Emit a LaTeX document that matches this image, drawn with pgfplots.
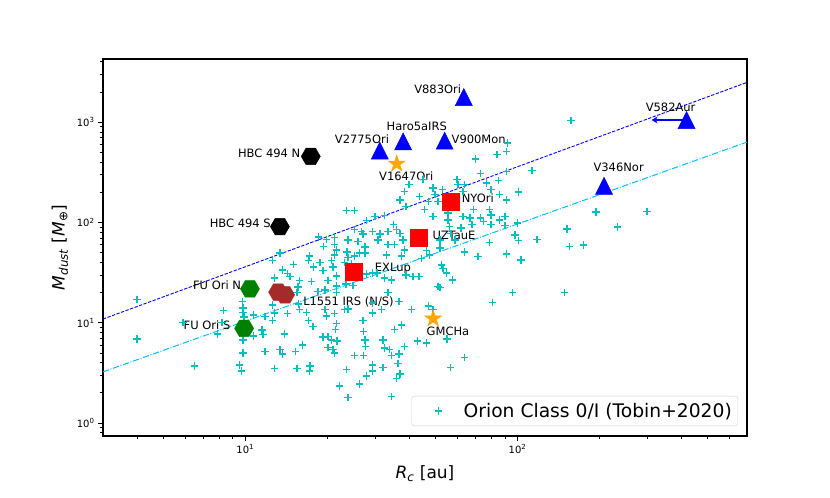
\documentclass[border=0pt]{standalone}
\usepackage{pgfplots}
\pgfplotsset{compat=1.18}
\usepackage{fontspec}
\setmainfont{DejaVu Sans}
\usetikzlibrary{arrows.meta}

\definecolor{mplcyan}{rgb}{0,0.75,0.75}
\definecolor{skyline}{RGB}{0,191,255}
\definecolor{mplgreen}{RGB}{0,128,0}
\definecolor{mplbrown}{RGB}{165,42,42}
\definecolor{mplorange}{RGB}{255,165,0}

% matplotlib-like filled markers
\pgfdeclareplotmark{tri*}{%
  \pgfpathmoveto{\pgfqpoint{0pt}{\pgfplotmarksize}}%
  \pgfpathlineto{\pgfqpoint{-\pgfplotmarksize}{-\pgfplotmarksize}}%
  \pgfpathlineto{\pgfqpoint{\pgfplotmarksize}{-\pgfplotmarksize}}%
  \pgfpathclose
  \pgfusepathqfillstroke}
\pgfdeclareplotmark{hex*}{%
  \pgfpathmoveto{\pgfpointpolar{0}{\pgfplotmarksize}}%
  \pgfpathlineto{\pgfpointpolar{60}{\pgfplotmarksize}}%
  \pgfpathlineto{\pgfpointpolar{120}{\pgfplotmarksize}}%
  \pgfpathlineto{\pgfpointpolar{180}{\pgfplotmarksize}}%
  \pgfpathlineto{\pgfpointpolar{240}{\pgfplotmarksize}}%
  \pgfpathlineto{\pgfpointpolar{300}{\pgfplotmarksize}}%
  \pgfpathclose
  \pgfusepathqfillstroke}
\pgfdeclareplotmark{star5*}{%
  \pgfpathmoveto{\pgfpointpolar{90}{\pgfplotmarksize}}%
  \pgfpathlineto{\pgfpointpolar{126}{0.382\pgfplotmarksize}}%
  \pgfpathlineto{\pgfpointpolar{162}{\pgfplotmarksize}}%
  \pgfpathlineto{\pgfpointpolar{198}{0.382\pgfplotmarksize}}%
  \pgfpathlineto{\pgfpointpolar{234}{\pgfplotmarksize}}%
  \pgfpathlineto{\pgfpointpolar{270}{0.382\pgfplotmarksize}}%
  \pgfpathlineto{\pgfpointpolar{306}{\pgfplotmarksize}}%
  \pgfpathlineto{\pgfpointpolar{342}{0.382\pgfplotmarksize}}%
  \pgfpathlineto{\pgfpointpolar{18}{\pgfplotmarksize}}%
  \pgfpathlineto{\pgfpointpolar{54}{0.382\pgfplotmarksize}}%
  \pgfpathclose
  \pgfusepathqfillstroke}

\begin{document}
\begin{tikzpicture}
\useasboundingbox (-103bp,-62bp) rectangle (727bp,436bp);
\begin{axis}[
    at={(0,0)}, anchor=south west,
    scale only axis, width=644bp, height=377bp,
    xmode=log, ymode=log,
    xmin=3, xmax=697, ymin=0.7435, ymax=4270,
    xtick={10,100},
    xticklabels={10\textsuperscript{1},10\textsuperscript{2}},
    ytick={1,10,100,1000},
    yticklabels={10\textsuperscript{0},10\textsuperscript{1},10\textsuperscript{2},10\textsuperscript{3}},
    minor xtick={4,5,6,7,8,9,20,30,40,50,60,70,80,90,200,300,400,500,600},
    minor ytick={0.8,0.9,2,3,4,5,6,7,8,9,20,30,40,50,60,70,80,90,200,300,400,500,600,700,800,900,2000,3000,4000},
    tick align=outside, xtick pos=bottom, ytick pos=left,
    major tick length=5bp, minor tick length=2.8bp,
    every major tick/.append style={black, line width=1.1bp},
    every minor tick/.append style={black, line width=0.8bp},
    axis line style={line width=1.1bp},
    tick label style={font=\fontsize{10bp}{12bp}\selectfont},
    xlabel={\textit{R}\textsubscript{\textit{c}} [au]},
    ylabel={\textit{M}\textsubscript{\textit{dust}} [\textit{M}\textsubscript{⊕}]},
    label style={font=\fontsize{17bp}{20bp}\selectfont},
    xlabel style={at={(axis description cs:0.5,-0.1)}, anchor=center},
    ylabel style={at={(axis description cs:-0.067,0.5)}, anchor=center},
    legend style={at={(axis description cs:0.986,0.0265)}, anchor=south east,
        draw=black!18, rounded corners=2.5bp, fill=white,
        font=\fontsize{18.7bp}{22bp}\selectfont, inner xsep=4bp, inner ysep=5bp},
    legend cell align=left,
    legend image code/.code={\path[draw=none,fill=none] (0bp,0bp) -- (46bp,0bp);
        \draw[#1] plot[only marks] coordinates {(23bp,0bp)};},
]

% Orion Class 0/I sample (Tobin+2020)
\addplot[only marks, mark=+, mark size=3.7bp, mplcyan, line width=1.4bp] coordinates {
(4.0,17) (4.0,6.9) (5.9,10.1) (6.5,3.7) (8.3,13.3) (7.9,7.7) (8.2,10.0)
(23.5,132) (25.2,132) (27.9,105) (25.2,85) (27.1,77) (18.6,72) (19.9,68) (21.3,71)
(23.8,67) (25.9,65) (27.5,57) (19.4,58) (21.3,60) (21.6,53) (13.4,49.5) (12.6,42)
(17.2,46.5) (17.1,42) (18.8,40) (21.3,47.6) (20.7,42) (23.6,51) (23.8,45) (25.2,46.5)
(26.3,49.5) (15.0,38) (13.7,33.7) (14.3,31) (14.6,29) (12.8,28) (17.8,36) (19.3,33)
(21.0,36) (21.6,29.4) (23.2,40) (24.5,38.7) (15.8,26.4) (15.6,22.7) (17.5,25.8)
(20.1,26.4) (21.6,23.3) (23.4,24.4) (24.9,23.5) (18.5,20.5) (19.6,21.3) (21.6,20)
(27.9,30.8) (15.5,20)
(9.75,16.3) (9.8,14) (9.8,12.6) (9.9,11.4) (10.7,12) (11.8,11.5) (12.6,10.5) (12.8,12.5)
(12.6,15.1) (14.3,12.3) (15.7,15.4) (15.8,13.5) (16.8,12.6) (17.1,10.5) (17.7,9.2)
(19.6,13.5) (19.9,11.7) (21.3,12.3) (21.6,9.9) (21.5,8.6) (23.2,13.5) (23.8,13.7)
(27.1,10.5) (27.2,8.2) (27.5,6.75) (27.7,5.8) (11.6,7.6) (11.5,8.5) (10.7,7.4)
(13.9,7.75) (9.8,6.75) (9.8,5.0) (11.8,5.2) (13.4,5.4) (13.7,4.9) (15.3,5.2) (16.2,6.0)
(19.3,7.2) (20.1,7.3) (20.7,6.75) (21.7,6.6) (20.1,5.7) (21.0,5.4) (21.3,5.0) (25.2,4.7)
(27.2,4.7) (9.5,3.8) (9.7,3.3) (12.8,3.5) (15.5,3.5) (17.3,3.7) (17.2,3.3) (23.5,3.4)
(27.9,2.95) (22.2,2.35) (26.3,2.45) (23.8,1.8)
(70,430) (84,475) (91,510) (73,310) (77,247) (91,323) (80,212) (86,189) (91,168)
(60,267) (60.5,238) (49,220) (40,238) (38.5,204) (43.7,182) (47,162) (49.7,189) (53,212)
(63,204) (37,168) (39,144) (45.6,134) (49,115) (55.6,124) (55.6,106) (69,134) (79,134)
(80,119) (90,115) (73,111) (75,102) (63,115) (30,115) (32.5,117) (35,95) (26.7,81)
(29.4,81) (31.2,77) (36,85) (37,78) (56.4,91) (57,78) (62,88) (68,95) (80,95) (86,106)
(92,620) (85,263) (64,238) (101,201) (51,162) (67,111) (100,99) (45,267)
(33.4,81) (30.7,67) (33.4,60) (35.4,60) (38,67) (27.5,49.5) (33,47.6) (37.5,46.5)
(38.5,53) (46.3,52.6) (47.6,47.6) (52,67) (59,67) (64,51) (71.6,45.8) (79,63) (91,48.7)
(44.4,44) (52.5,37.8) (53.3,35) (54.8,31.3) (57.7,26.8) (51,23) (52,22.5) (29.4,31.3)
(30.5,31.3) (32.5,27.9) (34.4,26.8) (39,30) (41.3,29) (43.5,29) (33.4,20) (36.7,16.3)
(29.4,15.7) (31.6,13.5) (29.4,12.5) (40.8,13.5) (47,14.7) (49,13.5) (35.4,8.6) (37.5,9.5)
(32,6.75) (32.5,5.6) (33.9,5.4) (34.4,4.7) (36.7,4.9) (38.5,5.8) (43,6.6) (46.3,6.3)
(55,6.9) (64,4.5) (56.7,3.6) (81,16) (29.4,3.8) (32,3.6) (36.4,3.95) (37,3.1) (36,2.8)
(29.4,3.3) (34.4,1.83) (52,55.5)
(157,1040) (113,330) (90,93) (98,75) (101,66) (118,68) (152,86.5) (194,127) (299,129)
(233,90) (155,57.6) (175,59.5) (103,42.4) (96,20) (149,20)
};
\addlegendentry{Orion Class 0/I (Tobin+2020)}

% reference relations
\addplot[blue, line width=0.9bp, dash pattern=on 3.3bp off 1.5bp, forget plot]
    coordinates {(3,10.9) (697,2495)};
\addplot[skyline, line width=1bp, dash pattern=on 6.4bp off 1.6bp on 1bp off 1.6bp, forget plot]
    coordinates {(3,3.24) (697,634)};

% V582Aur upper limit
\addplot[blue, line width=2bp, -{Stealth[length=6bp,width=7bp]}, forget plot]
    coordinates {(418,1052) (311,1052)};

% FUors / EXors
\addplot[only marks, mark=tri*, mark size=8.5bp, blue, line width=0.5bp, forget plot]
    coordinates {(63.5,1784) (418,1052) (38,643) (31.2,522) (54,654) (208,232)};
\addplot[only marks, mark=star5*, mark size=8.8bp, mplorange, line width=0.5bp, forget plot]
    coordinates {(36,385) (49,11)};
\addplot[only marks, mark=hex*, mark size=9.5bp, black, line width=0.5bp, forget plot]
    coordinates {(17.4,456) (13.4,91)};
\addplot[only marks, mark=hex*, mark size=9.5bp, mplgreen, line width=0.5bp, forget plot]
    coordinates {(10.4,21.8) (9.9,8.8)};
\addplot[only marks, mark=hex*, mark size=9.5bp, mplbrown, line width=0.5bp, forget plot]
    coordinates {(13.2,20.2) (14.0,19.0)};
\addplot[only marks, mark=square*, mark size=8.5bp, red, line width=0.5bp, forget plot]
    coordinates {(25,32.4) (43.5,70) (57,160)};

\begin{scope}[every node/.style={anchor=base west, inner sep=0pt,
    font=\fontsize{11.5bp}{14bp}\selectfont}]
\node at (axis cs:41.7,1929) {V883Ori};
\node at (axis cs:295.5,1288) {V582Aur};
\node at (axis cs:33.0,828) {Haro5aIRS};
\node at (axis cs:21.3,620) {V2775Ori};
\node at (axis cs:57.2,620) {V900Mon};
\node at (axis cs:9.39,447) {HBC 494 N};
\node at (axis cs:31.0,263) {V1647Ori};
\node at (axis cs:190,324) {V346Nor};
\node at (axis cs:62.3,157) {NYOri};
\node at (axis cs:7.39,89.6) {HBC 494 S};
\node at (axis cs:48.7,68.4) {UZTauE};
\node at (axis cs:29.9,32.3) {EXLup};
\node at (axis cs:6.42,21.7) {FU Ori N};
\node at (axis cs:16.3,14.8) {L1551 IRS (N/S)};
\node at (axis cs:5.93,8.65) {FU Ori S};
\node at (axis cs:46.3,7.42) {GMCHa};
\end{scope}
\end{axis}
\end{tikzpicture}
\end{document}
